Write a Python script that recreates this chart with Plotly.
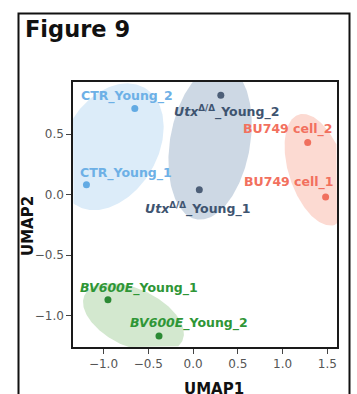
import math
import plotly.graph_objects as go

# ---- data ----
groups = ["CTR", "Utx", "BU749", "BV600E"]
sample_labels = [
    "CTR_Young_2", "CTR_Young_1",
    "<i>Utx</i><sup>Δ/Δ</sup>_Young_2", "<i>Utx</i><sup>Δ/Δ</sup>_Young_1",
    "BU749 cell_2", "BU749 cell_1",
    "<i>BV600E</i>_Young_1", "<i>BV600E</i>_Young_2",
]
sample_group = ["CTR", "CTR", "Utx", "Utx", "BU749", "BU749", "BV600E", "BV600E"]
umap1 = [-0.65, -1.19, 0.31, 0.07, 1.28, 1.48, -0.95, -0.38]
umap2 = [0.71, 0.08, 0.82, 0.04, 0.43, -0.02, -0.87, -1.17]
x_ticks = [-1.0, -0.5, 0.0, 0.5, 1.0, 1.5]
y_ticks = [-1.0, -0.5, 0.0, 0.5]

# ---- style ----
W, H = 357, 394
ML, MR, MT, MB = 73, 20, 82, 47
XR = [-1.34, 1.607]
YR = [-1.26, 0.93]
pw, ph = W - ML - MR, H - MT - MB
sx = pw / (XR[1] - XR[0])
sy = ph / (YR[1] - YR[0])

point_col = {"CTR": "#62aae3", "Utx": "#4d5f78", "BU749": "#f0705e", "BV600E": "#2b8a34"}
label_col = {"CTR": "#6db0e6", "Utx": "#3e5470", "BU749": "#f2705e", "BV600E": "#2e9636"}
fill_col = {"CTR": "#dcecf9", "Utx": "#cdd8e4", "BU749": "#fcdad2", "BV600E": "#d3e8cf"}
# ellipse geometry in screen pixels: angle (deg), semi-major, semi-minor
ell = {"CTR": (60, 68, 47), "Utx": (80, 78, 40), "BU749": (-72, 58, 28), "BV600E": (-25, 54, 29)}
# label offsets in pixels (x right, y up)
shifts = [(-7.5, 13), (39.5, 12), (6, -16), (-1.5, -19), (-19.5, 14), (-36.5, 15), (31, 12), (30, 13)]

FONT = "DejaVu Sans"
fig = go.Figure()

for g in groups:
    idx = [i for i, s in enumerate(sample_group) if s == g]
    cx = sum(umap1[i] for i in idx) / len(idx)
    cy = sum(umap2[i] for i in idx) / len(idx)
    th, A, B = ell[g]
    t = math.radians(th)
    xs, ys = [], []
    for k in range(241):
        a = 2 * math.pi * k / 240
        px = A * math.cos(a) * math.cos(t) - B * math.sin(a) * math.sin(t)
        py = A * math.cos(a) * math.sin(t) + B * math.sin(a) * math.cos(t)
        xs.append(min(max(cx + px / sx, XR[0]), XR[1]))
        ys.append(min(max(cy + py / sy, YR[0]), YR[1]))
    fig.add_trace(go.Scatter(x=xs, y=ys, mode="lines", fill="toself",
                             fillcolor=fill_col[g], line=dict(width=0, color=fill_col[g]),
                             hoverinfo="skip", showlegend=False))

for g in groups:
    idx = [i for i, s in enumerate(sample_group) if s == g]
    fig.add_trace(go.Scatter(x=[umap1[i] for i in idx], y=[umap2[i] for i in idx],
                             mode="markers", marker=dict(size=7, color=point_col[g]),
                             showlegend=False))

for i, lab in enumerate(sample_labels):
    g = sample_group[i]
    fig.add_annotation(x=umap1[i], y=umap2[i], xref="x", yref="y", text="<b>" + lab + "</b>",
                       showarrow=False, xshift=shifts[i][0], yshift=shifts[i][1],
                       font=dict(family=FONT, size=12.5, color=label_col[g]))

# titles
fig.add_annotation(x=(23 - ML) / pw, y=(H - MB - 29) / ph, xref="paper", yref="paper",
                   text="<b>Figure 9</b>", showarrow=False, xanchor="left", yanchor="middle",
                   font=dict(family=FONT, size=22.5, color="#111111"))
fig.add_annotation(x=(213.5 - ML) / pw, y=(H - MB - 389) / ph, xref="paper", yref="paper",
                   text="<b>UMAP1</b>", showarrow=False, xanchor="center", yanchor="middle",
                   font=dict(family=FONT, size=15, color="#111111"))
fig.add_annotation(x=(27.5 - ML) / pw, y=(H - MB - 226.5) / ph, xref="paper", yref="paper",
                   text="<b>UMAP2</b>", showarrow=False, xanchor="center", yanchor="middle",
                   textangle=-90, font=dict(family=FONT, size=15, color="#111111"))

# outer frame
fig.add_shape(type="rect", xref="paper", yref="paper",
              x0=(18.5 - ML) / pw, x1=(349.5 - ML) / pw,
              y0=(H - MB - 420) / ph, y1=(H - MB - 13.5) / ph,
              line=dict(color="#111111", width=2), fillcolor="rgba(0,0,0,0)")

axis_common = dict(showgrid=False, zeroline=False, showline=True, mirror=True,
                   linecolor="#1a1a1a", linewidth=1.5, ticks="outside", ticklen=5,
                   tickwidth=1, tickcolor="#444444",
                   tickfont=dict(family=FONT, size=12, color="#555555"))
fig.update_xaxes(range=XR, tickvals=x_ticks, ticktext=["−1.0", "−0.5", "0.0", "0.5", "1.0", "1.5"],
                 **axis_common)
fig.update_yaxes(range=YR, tickvals=y_ticks, ticktext=["−1.0", "−0.5", "0.0", "0.5"],
                 **axis_common)

fig.update_layout(width=W, height=H, margin=dict(l=ML, r=MR, t=MT, b=MB, pad=0),
                  plot_bgcolor="white", paper_bgcolor="white", showlegend=False)
fig.write_html("out.html", config={"displayModeBar": False},
               post_script="document.body.style.margin='0';document.body.style.overflow='hidden';")
